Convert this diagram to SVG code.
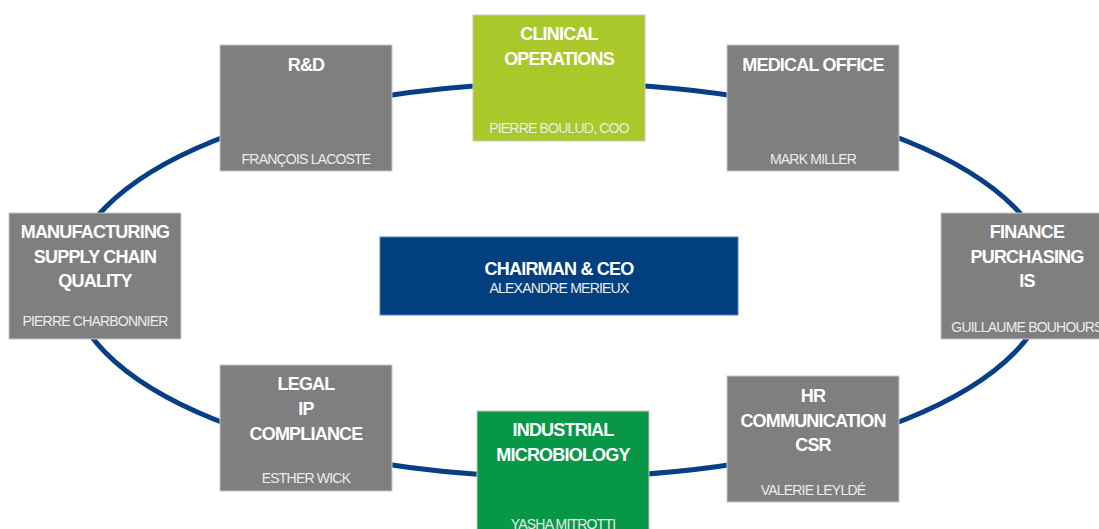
<svg xmlns="http://www.w3.org/2000/svg" width="1099" height="529" viewBox="0 0 1099 529">
  <style>
    .box { stroke: #c8c8c8; stroke-width: 1; }
    .gray { fill: #7f7f7f; }
    .lime { fill: #abc82b; }
    .green { fill: #079747; }
    .blue { fill: #013f7f; stroke: #5a7fae; }
    .t { font-family: "Liberation Sans", Arial, sans-serif; font-weight: bold; font-size: 18px; fill: #ffffff; text-anchor: middle; letter-spacing: -0.8px; }
    .s { font-family: "Liberation Sans", Arial, sans-serif; font-size: 14px; fill: #ececec; text-anchor: middle; letter-spacing: -0.8px; }
    .ring { fill: none; stroke: #073f86; stroke-width: 5; }
  </style>
  <rect width="1099" height="529" fill="#ffffff"/>
  <g id="connectors">
    <ellipse class="ring" cx="560" cy="280" rx="489" ry="197"/>
  </g>
  <g id="chairman">
    <rect class="blue" x="380" y="237" width="358" height="78"/>
    <text class="t" x="559" y="275">CHAIRMAN &amp; CEO</text>
    <text class="s" x="559" y="293" fill="#dde4ee">ALEXANDRE MERIEUX</text>
  </g>
  <g id="rnd">
    <rect class="box gray" x="220" y="45" width="172" height="126"/>
    <text class="t" x="306" y="71">R&amp;D</text>
    <text class="s" x="306" y="164">FRANÇOIS LACOSTE</text>
  </g>
  <g id="clinical">
    <rect class="box lime" x="473" y="15" width="172" height="126"/>
    <text class="t" x="559" y="40">CLINICAL</text>
    <text class="t" x="559" y="65">OPERATIONS</text>
    <text class="s" x="559" y="133">PIERRE BOULUD, COO</text>
  </g>
  <g id="medical">
    <rect class="box gray" x="727" y="45" width="172" height="126"/>
    <text class="t" x="813" y="71">MEDICAL OFFICE</text>
    <text class="s" x="813" y="164">MARK MILLER</text>
  </g>
  <g id="finance">
    <rect class="box gray" x="941" y="213" width="172" height="126"/>
    <text class="t" x="1027" y="238">FINANCE</text>
    <text class="t" x="1027" y="263">PURCHASING</text>
    <text class="t" x="1027" y="287">IS</text>
    <text class="s" x="1027" y="332">GUILLAUME BOUHOURS</text>
  </g>
  <g id="manufacturing">
    <rect class="box gray" x="9" y="213" width="172" height="126"/>
    <text class="t" x="95" y="238">MANUFACTURING</text>
    <text class="t" x="95" y="263">SUPPLY CHAIN</text>
    <text class="t" x="95" y="287">QUALITY</text>
    <text class="s" x="95" y="326">PIERRE CHARBONNIER</text>
  </g>
  <g id="legal">
    <rect class="box gray" x="220" y="365" width="172" height="126"/>
    <text class="t" x="306" y="390">LEGAL</text>
    <text class="t" x="306" y="415">IP</text>
    <text class="t" x="306" y="440">COMPLIANCE</text>
    <text class="s" x="306" y="483">ESTHER WICK</text>
  </g>
  <g id="industrial">
    <rect class="box green" x="477" y="411" width="172" height="126"/>
    <text class="t" x="563" y="436">INDUSTRIAL</text>
    <text class="t" x="563" y="461">MICROBIOLOGY</text>
    <text class="s" x="563" y="529">YASHA MITROTTI</text>
  </g>
  <g id="hr">
    <rect class="box gray" x="727" y="376" width="172" height="126"/>
    <text class="t" x="813" y="402">HR</text>
    <text class="t" x="813" y="427">COMMUNICATION</text>
    <text class="t" x="813" y="451">CSR</text>
    <text class="s" x="813" y="495">VALERIE LEYLDÉ</text>
  </g>
</svg>
